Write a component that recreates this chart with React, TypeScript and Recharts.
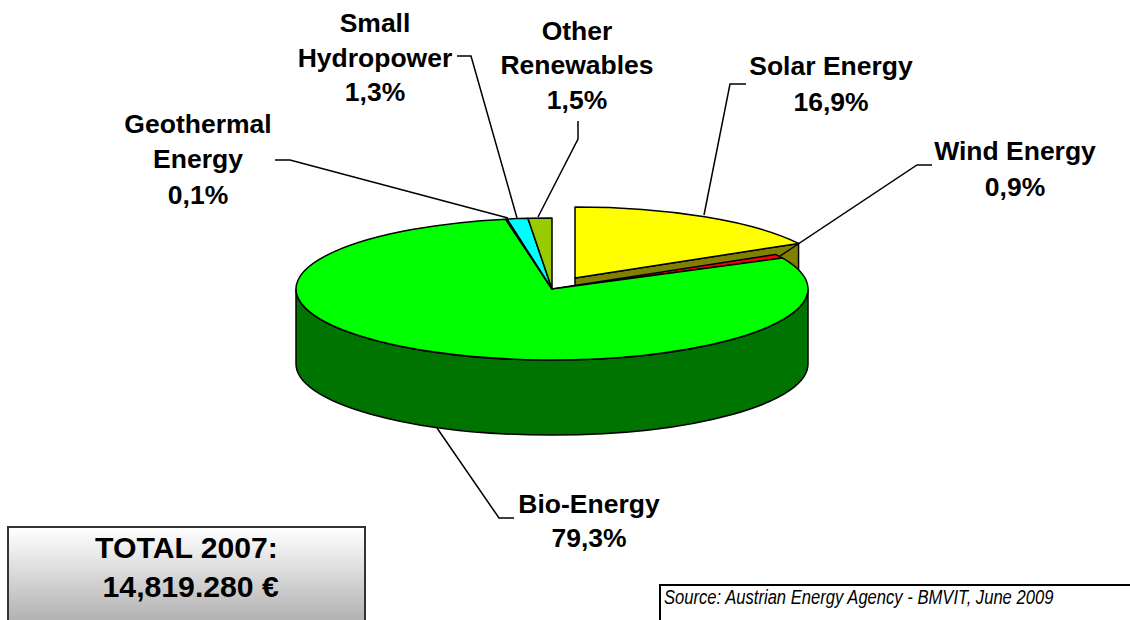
import { PieChart, Pie } from "recharts";

const WIDTH = 1130;
const HEIGHT = 620;

// pie geometry
const CX = 552;
const CY = 289;
const RX = 256;
const RY = 71;
const DEPTH = 75;
const FONT = "'Liberation Sans', Arial, sans-serif";

const categories = [
  "Solar Energy",
  "Wind Energy",
  "Bio-Energy",
  "Geothermal Energy",
  "Small Hydropower",
  "Other Renewables",
];
const shares = [16.9, 0.9, 79.3, 0.1, 1.3, 1.5];
const topColors = ["#ffff00", "#ff0000", "#00ff00", "#000080", "#00ffff", "#99cc00"];
const wallColors = ["#808000", "#800000", "#007400", "#000040", "#008080", "#4d6600"];

// how far each slice is pulled out of the pie
const explode = [
  [23, -11],
  [0, 0],
  [0, 0],
  [0, 0],
  [0, 0],
  [0, 0],
];

const labelRows = [
  ["Solar Energy"],
  ["Wind Energy"],
  ["Bio-Energy"],
  ["Geothermal", "Energy"],
  ["Small", "Hydropower"],
  ["Other", "Renewables"],
];
const labelCenters = [831, 1015, 589, 198, 375, 577];
const labelBaselines = [
  [75, 111],
  [160, 196],
  [513, 547],
  [133, 168, 204],
  [32, 67, 101],
  [40, 74, 109],
];
const leaders = [
  "704,215 730,84 746,84",
  "780,256 917,165 932,165",
  "437,428 499,518 514,518",
  "508,218 290,160 275,160",
  "517,218 471,56 457,56",
  "538,217 578,139 578,121",
];

const chartData = categories.map((name, i) => ({ name, value: shares[i], index: i }));

const rad = (deg: number) => (deg * Math.PI) / 180;
const pointAt = (x: number, y: number, deg: number) => [
  x + RX * Math.cos(rad(deg)),
  y - RY * Math.sin(rad(deg)),
];

// Recharts only gives a round sector, so squash it to the tilted ellipse and add walls
function TiltedSlice(props: any) {
  const { startAngle, endAngle, payload } = props;
  const i = payload?.index ?? props.index ?? 0;
  const [dx, dy] = explode[i];
  const x = CX + dx;
  const y = CY + dy;
  const [sx, sy] = pointAt(x, y, startAngle);
  const [ex, ey] = pointAt(x, y, endAngle);
  const large = startAngle - endAngle > 180 ? 1 : 0;
  const top = `M${x},${y} L${sx},${sy} A${RX},${RY} 0 ${large} 1 ${ex},${ey} Z`;

  // the front half of the rim is the only part that shows
  const from = Math.min(startAngle, 0);
  const to = Math.max(endAngle, -180);
  let rim = null;
  if (from > to) {
    const [ax, ay] = pointAt(x, y, from);
    const [bx, by] = pointAt(x, y, to);
    rim = (
      <path
        d={`M${ax},${ay} A${RX},${RY} 0 0 1 ${bx},${by} L${bx},${by + DEPTH} A${RX},${RY} 0 0 0 ${ax},${ay + DEPTH} Z`}
        fill={wallColors[i]}
        stroke="#000"
        strokeWidth={1.5}
      />
    );
  }

  return (
    <g>
      {dx !== 0 && (
        <path
          d={`M${x},${y} L${ex},${ey} L${ex},${ey + DEPTH} L${x},${y + DEPTH} Z`}
          fill={wallColors[i]}
          stroke="#000"
          strokeWidth={1.5}
        />
      )}
      {rim}
      <path d={top} fill={topColors[i]} stroke="#000" strokeWidth={1.5} strokeLinejoin="round" />
    </g>
  );
}

function SliceLabel(props: any) {
  const i = props.index;
  const rows = [...labelRows[i], `${shares[i].toFixed(1).replace(".", ",")}%`];
  return (
    <g>
      <polyline points={leaders[i]} fill="none" stroke="#000" strokeWidth={1.5} />
      {rows.map((row, r) => (
        <text
          key={row}
          x={labelCenters[i]}
          y={labelBaselines[i][r]}
          textAnchor="middle"
          fontFamily={FONT}
          fontWeight="bold"
          fontSize={26.5}
          fill="#000"
        >
          {row}
        </text>
      ))}
    </g>
  );
}

export default function App() {
  return (
    <div
      style={{
        position: "absolute",
        left: 0,
        top: 0,
        width: WIDTH,
        height: HEIGHT,
        overflow: "hidden",
        background: "#fff",
      }}
    >
      <PieChart width={WIDTH} height={HEIGHT} margin={{ top: 0, right: 0, bottom: 0, left: 0 }}>
        <Pie
          data={chartData}
          dataKey="value"
          nameKey="name"
          cx={CX}
          cy={CY}
          innerRadius={0}
          outerRadius={RX}
          startAngle={90}
          endAngle={-270}
          paddingAngle={0}
          isAnimationActive={false}
          shape={TiltedSlice}
          label={SliceLabel}
          labelLine={false}
        />
      </PieChart>

      <div
        style={{
          position: "absolute",
          left: 7,
          top: 526,
          width: 359,
          height: 110,
          border: "2px solid #333",
          background: "linear-gradient(#ffffff, #b4b4b4 85%)",
          fontFamily: FONT,
          fontWeight: "bold",
          fontSize: 30.2,
          lineHeight: "39px",
          textAlign: "center",
          color: "#000",
          boxSizing: "border-box",
        }}
      >
        TOTAL 2007:
        <br />
        {"\u00a014,819.280 €"}
      </div>

      <div
        style={{
          position: "absolute",
          left: 659,
          top: 584,
          width: 500,
          height: 60,
          borderLeft: "2px solid #000",
          borderTop: "2px solid #000",
          color: "#000",
          boxSizing: "border-box",
        }}
      >
        <span
          style={{
            display: "inline-block",
            whiteSpace: "nowrap",
            fontFamily: FONT,
            fontStyle: "italic",
            fontSize: 20,
            lineHeight: "23px",
            marginLeft: 3,
            transform: "scaleX(0.83)",
            transformOrigin: "left center",
          }}
        >
          Source: Austrian Energy Agency - BMVIT, June 2009
        </span>
      </div>
    </div>
  );
}
